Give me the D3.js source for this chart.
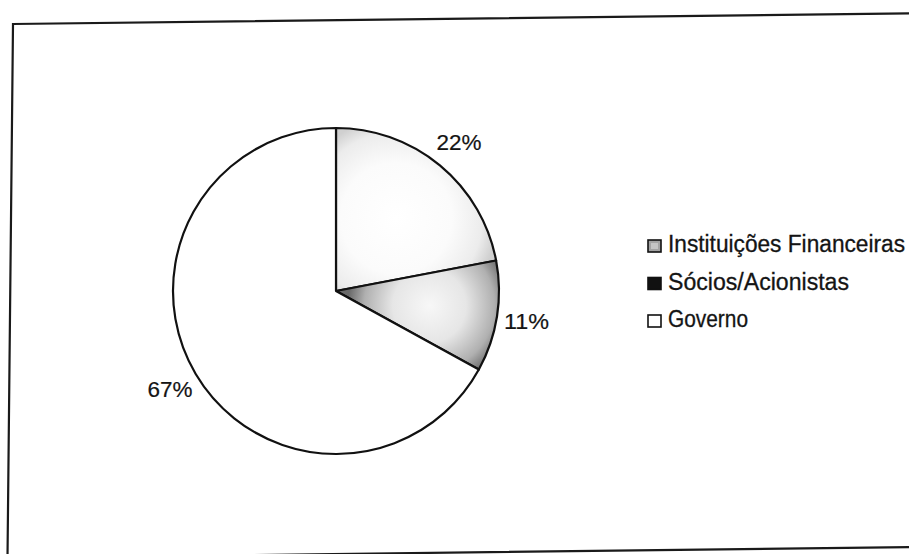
<!DOCTYPE html>
<html>
<head>
<meta charset="utf-8">
<script src="https://cdn.jsdelivr.net/npm/d3@7/dist/d3.min.js"></script>
<style>
  html, body { margin: 0; padding: 0; background: #fff; }
  svg { display: block; }
  text { font-family: "Liberation Sans", Arial, Helvetica, sans-serif; fill: #141414; stroke: #141414; stroke-width: 0.3px; }
  text.legend, text.pct { font-family: "Liberation Sans Narrow", "Liberation Sans", Arial, sans-serif; }
  text.pct { stroke-width: 0.2px; }
</style>
</head>
<body>
<svg id="chart" width="909" height="554"></svg>
<script>
// Composição das fontes de financiamento
const categories = ["Instituições Financeiras", "Sócios/Acionistas", "Governo"];
const shares = [22, 11, 67];
const valueLabels = ["22%", "11%", "67%"];

const W = 909, H = 554;
const svg = d3.select("#chart");
const defs = svg.append("defs");

// Scanned-page frame around the chart area (slightly skewed edges)
const frame = [[13, 24], [915, 13.3], [915, 547], [7.5, 558]];
svg.append("path")
  .attr("d", d3.line()(frame) + "Z")
  .attr("fill", "none")
  .attr("stroke", "#1a1a1a")
  .attr("stroke-width", 2.2);

// Pie geometry
const cx = 336, cy = 291, R = 163;
const g = svg.append("g").attr("transform", `translate(${cx},${cy})`);

const pie = d3.pie().sort(null).value(d => d).startAngle(0).endAngle(2 * Math.PI);
const arcs = pie(shares);
const arc = d3.arc().innerRadius(0).outerRadius(R);

// Shaded fills: light halftone for the first slice, darker rim for the second, plain white for the third
const shadeStops = [
  [[0, "#ffffff"], [0.55, "#fbfbfb"], [0.85, "#ececec"], [1, "#d0d0d0"]],
  [[0, "#f7f7f7"], [0.45, "#e6e6e6"], [0.8, "#b0b0b0"], [1, "#6a6a6a"]],
  null
];
const gradR = [R * 0.62, R * 0.5, 0];

arcs.forEach((a, i) => {
  if (!shadeStops[i]) return;
  const mid = (a.startAngle + a.endAngle) / 2;
  const rr = R * 0.58;
  const grad = defs.append("radialGradient")
    .attr("id", "shade" + i)
    .attr("gradientUnits", "userSpaceOnUse")
    .attr("cx", Math.sin(mid) * rr)
    .attr("cy", -Math.cos(mid) * rr)
    .attr("r", gradR[i]);
  shadeStops[i].forEach(s => grad.append("stop").attr("offset", s[0]).attr("stop-color", s[1]));
});

g.selectAll("path.slice")
  .data(arcs)
  .join("path")
  .attr("class", "slice")
  .attr("d", arc)
  .attr("fill", (d, i) => shadeStops[i] ? `url(#shade${i})` : "#ffffff")
  .attr("stroke", "#111")
  .attr("stroke-width", 2.2)
  .attr("stroke-linejoin", "round");

// Percentage labels outside the slices
const labelArc = d3.arc().innerRadius(R + 30).outerRadius(R + 30);
g.selectAll("text.pct")
  .data(arcs)
  .join("text")
  .attr("class", "pct")
  .attr("transform", d => `translate(${labelArc.centroid(d)})`)
  .attr("text-anchor", "middle")
  .attr("dy", "0.36em")
  .style("font-size", "22px")
  .attr("textLength", 45)
  .attr("lengthAdjust", "spacingAndGlyphs")
  .text((d, i) => valueLabels[i]);

// Legend
const legendX = 648, legendY0 = 252, legendStep = 37.5;
const swatchFill = ["#a3a3a3", "#111111", "#ffffff"];
const legendWidths = [237, 181, 80];
const lg = svg.append("g");
const rows = lg.selectAll("g.row")
  .data(categories)
  .join("g")
  .attr("class", "row")
  .attr("transform", (d, i) => `translate(${legendX},${legendY0 + i * legendStep})`);

rows.append("rect")
  .attr("x", 0).attr("y", -12)
  .attr("width", 13).attr("height", 12)
  .attr("fill", (d, i) => swatchFill[i])
  .attr("stroke", "#111")
  .attr("stroke-width", 1.6);

rows.filter((d, i) => i === 0).append("rect")
  .attr("x", 3).attr("y", -9)
  .attr("width", 7).attr("height", 6)
  .attr("fill", "#c4c4c4")
  .attr("stroke", "none");

rows.append("text")
  .attr("class", "legend")
  .attr("x", 20)
  .attr("y", 0)
  .style("font-size", "23px")
  .attr("textLength", (d, i) => legendWidths[i])
  .attr("lengthAdjust", "spacingAndGlyphs")
  .text(d => d);
</script>
</body>
</html>
